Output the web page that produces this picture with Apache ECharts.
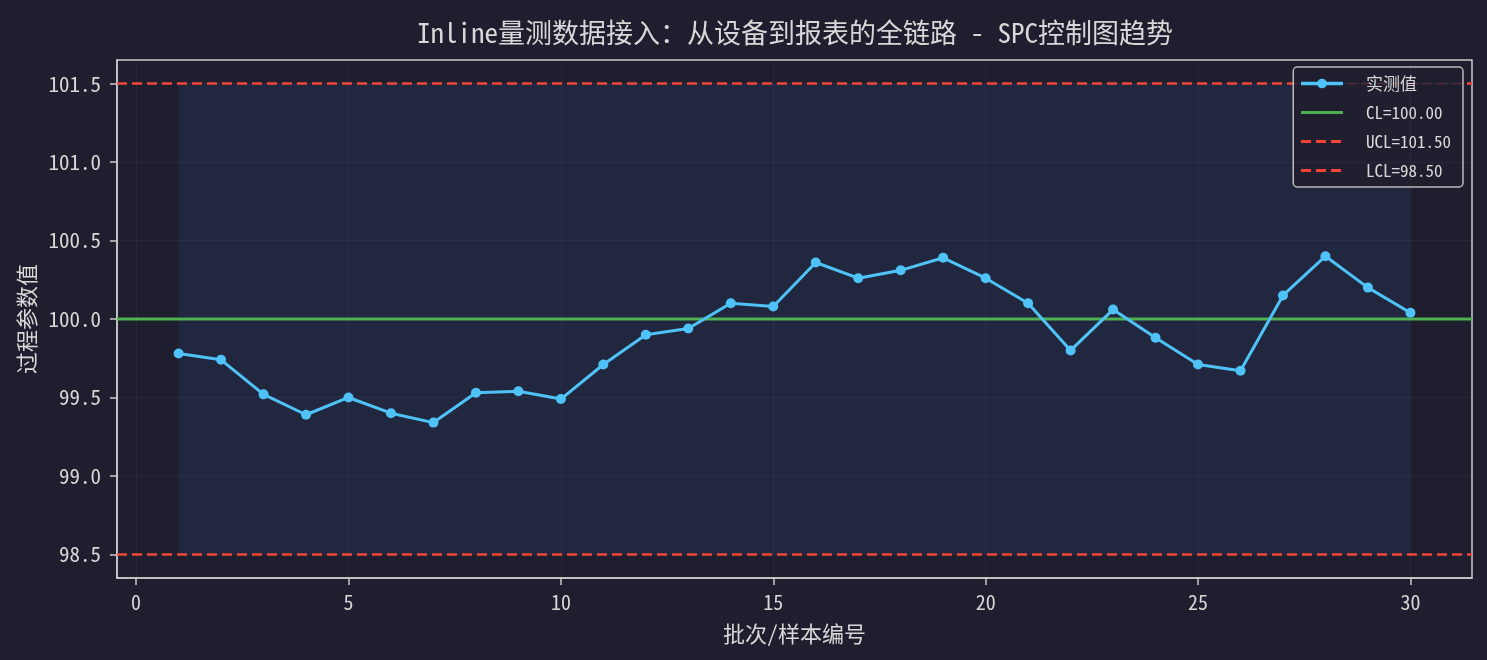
<!DOCTYPE html>
<html lang="zh">
<head>
  <meta charset="UTF-8">
  <title>SPC控制图趋势</title>
  <style>
    html, body { margin: 0; padding: 0; background: #1e1e2e; }
    #main { width: 1487px; height: 660px; }
  </style>
</head>
<body>
  <div id="main"></div>
  <script src="https://cdn.jsdelivr.net/npm/echarts@6/dist/echarts.min.js"></script>
  <script>
    // 批次编号 1..30 与实测值
    var batches = [1, 2, 3, 4, 5, 6, 7, 8, 9, 10, 11, 12, 13, 14, 15,
                   16, 17, 18, 19, 20, 21, 22, 23, 24, 25, 26, 27, 28, 29, 30];
    var measured = [99.78, 99.74, 99.52, 99.39, 99.50, 99.40, 99.34, 99.53, 99.54, 99.49,
                    99.71, 99.90, 99.94, 100.10, 100.08, 100.36, 100.26, 100.31, 100.39, 100.26,
                    100.10, 99.80, 100.06, 99.88, 99.71, 99.67, 100.15, 100.40, 100.20, 100.04];

    var CL = 100.0, UCL = 101.5, LCL = 98.5;
    var xTicks = [0, 5, 10, 15, 20, 25, 30];
    var yTicks = [98.5, 99.0, 99.5, 100.0, 100.5, 101.0, 101.5];

    var FONT = '"Noto Sans Mono CJK SC", "DejaVu Sans Mono", "Noto Sans CJK SC", monospace';
    var textColor = '#d8d8d8';
    var gridColor = 'rgba(255,255,255,0.04)';
    var red = '#f44336';

    var pairs = batches.map(function (b, i) { return [b, measured[i]]; });

    // 网格线用 markLine 画, 与刻度对齐
    var gridLines = xTicks.map(function (v) {
      return { xAxis: v };
    }).concat(yTicks.map(function (v) {
      return { yAxis: v };
    }));

    var chart = echarts.init(document.getElementById('main'));

    var option = {
      backgroundColor: '#1e1e2e',
      animation: false,
      textStyle: { fontFamily: FONT },
      title: {
        text: 'Inline量测数据接入：从设备到报表的全链路 - SPC控制图趋势',
        left: 412,
        top: 14,
        textStyle: { color: textColor, fontSize: 27, fontWeight: 'normal', fontFamily: FONT }
      },
      grid: {
        left: 117, right: 15, top: 60, bottom: 82,
        show: true, borderColor: '#cccccc', borderWidth: 1.5, backgroundColor: 'transparent'
      },
      legend: {
        right: 24,
        top: 67,
        orient: 'vertical',
        backgroundColor: 'rgba(30,30,46,0.85)',
        borderColor: '#bbbbbb',
        borderWidth: 1.5,
        borderRadius: 4,
        padding: [8, 12, 8, 6],
        itemGap: 12,
        itemWidth: 42,
        itemHeight: 12,
        textStyle: { color: textColor, fontSize: 17, fontFamily: FONT, padding: [0, 0, 0, 18] },
        data: [
          { name: '实测值', lineStyle: { width: 3.5 } },
          { name: 'CL=100.00', itemStyle: { opacity: 0 }, lineStyle: { width: 3 } },
          { name: 'UCL=101.50', itemStyle: { opacity: 0 }, lineStyle: { width: 3 } },
          { name: 'LCL=98.50', itemStyle: { opacity: 0 }, lineStyle: { width: 3 } }
        ]
      },
      xAxis: {
        type: 'value',
        min: -0.45,
        max: 31.45,
        name: '批次/样本编号',
        nameLocation: 'middle',
        nameGap: 45,
        nameTextStyle: { color: textColor, fontSize: 22, fontFamily: FONT },
        axisLine: { show: true, onZero: false, lineStyle: { color: '#cccccc', width: 1.5 } },
        axisTick: { show: true, customValues: xTicks, length: 7, lineStyle: { color: '#cccccc', width: 1.5 } },
        axisLabel: { customValues: xTicks, color: textColor, fontSize: 20, margin: 14, fontFamily: FONT },
        splitLine: { show: false }
      },
      yAxis: {
        type: 'value',
        min: 98.35,
        max: 101.65,
        name: '过程参数值',
        nameLocation: 'middle',
        nameGap: 76,
        nameTextStyle: { color: textColor, fontSize: 22, fontFamily: FONT },
        axisLine: { show: true, onZero: false, lineStyle: { color: '#cccccc', width: 1.5 } },
        axisTick: { show: true, customValues: yTicks, length: 7, lineStyle: { color: '#cccccc', width: 1.5 } },
        axisLabel: {
          customValues: yTicks, color: textColor, fontSize: 21, margin: 16, fontFamily: FONT,
          formatter: function (v) { return v.toFixed(1); }
        },
        splitLine: { show: false }
      },
      series: [
        {
          // 控制限之间的底色 + 网格线
          name: 'bg',
          type: 'line',
          data: [],
          silent: true,
          z: 0,
          markArea: {
            silent: true,
            itemStyle: { color: 'rgba(36,48,78,0.55)' },
            data: [[{ coord: [batches[0], LCL] }, { coord: [batches[batches.length - 1], UCL] }]]
          },
          markLine: {
            silent: true,
            symbol: 'none',
            label: { show: false },
            lineStyle: { color: gridColor, type: 'solid', width: 1 },
            data: gridLines
          }
        },
        {
          name: 'CL=100.00',
          type: 'line',
          data: [[-0.45, CL], [31.45, CL]],
          symbol: 'none',
          lineStyle: { color: '#4caf50', width: 2.8 },
          itemStyle: { color: '#4caf50' },
          z: 3
        },
        {
          name: 'UCL=101.50',
          type: 'line',
          data: [[-0.45, UCL], [31.45, UCL]],
          symbol: 'none',
          lineStyle: { color: red, width: 2.5, type: [10, 5] },
          itemStyle: { color: red },
          z: 3
        },
        {
          name: 'LCL=98.50',
          type: 'line',
          data: [[-0.45, LCL], [31.45, LCL]],
          symbol: 'none',
          lineStyle: { color: red, width: 2.5, type: [10, 5] },
          itemStyle: { color: red },
          z: 3
        },
        {
          name: '实测值',
          type: 'line',
          data: pairs,
          symbol: 'circle',
          symbolSize: 10,
          showAllSymbol: true,
          lineStyle: { color: '#4fc3f7', width: 3 },
          itemStyle: { color: '#4fc3f7' },
          z: 5
        }
      ]
    };

    chart.setOption(option);
  </script>
</body>
</html>
